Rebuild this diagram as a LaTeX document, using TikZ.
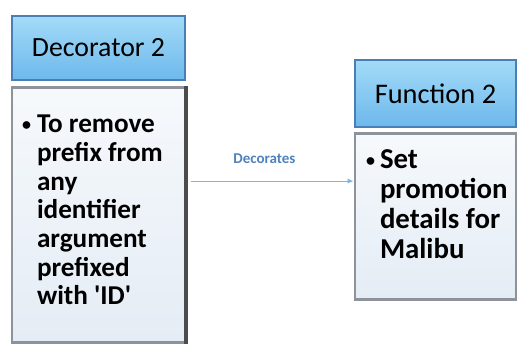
\documentclass[tikz,border=0pt]{standalone}
\usepackage{fontspec}
\setmainfont{Carlito}
\usepackage{xcolor}
\usetikzlibrary{positioning, arrows.meta}
\definecolor{headtop}{HTML}{A3DBF8}
\definecolor{headbot}{HTML}{6DB8EC}
\definecolor{headline}{HTML}{4A7FB5}
\definecolor{bodytop}{HTML}{F6F9FC}
\definecolor{bodybot}{HTML}{E4ECF5}
\definecolor{bodyline}{HTML}{8E9399}
\definecolor{linkblue}{HTML}{7FB2E5}
\definecolor{labelblue}{HTML}{4F81BD}
\newcommand{\bulletdot}{\raisebox{1.2pt}{\fontsize{9}{9}\selectfont\textbullet}}
\tikzstyle{header} = [rectangle, text centered, draw=headline, line width=1.3pt, top color=headtop, bottom color=headbot]
\tikzstyle{body} = [rectangle, inner sep=0pt, draw=bodyline, line width=1.3pt, top color=bodytop, bottom color=bodybot, font=\bfseries]
\tikzstyle{shade} = [line width=2pt, draw=black!70]
\tikzstyle{arrow} = [line width=0.5pt, draw=linkblue, -{Latex[length=3pt,width=2.5pt]}]

\begin{document}
\begin{tikzpicture}[x=0.5pt, y=-0.5pt]
   \useasboundingbox (0,0) rectangle (520,344);
   \node (dec) [header, minimum width=86.5pt, minimum height=32pt, font=\fontsize{13.9}{15}\selectfont] at (98.5,48) {Decorator 2};
   \node (decb) [body, below=2.5pt of dec, minimum width=86.5pt, minimum height=127.5pt, font=\bfseries\fontsize{13.6}{14.35}\selectfont] {\parbox[c][127.5pt][t]{86.5pt}{\vspace*{12.5pt}\hangindent=12.5pt\hangafter=1
      \strut\hspace*{5pt}\makebox[7.5pt][l]{\bulletdot}To remove\\prefix from\\any\\identifier\\argument\\prefixed\\with \textquotesingle ID\textquotesingle}};
   \node (fun) [header, minimum width=80.5pt, minimum height=33.5pt, font=\fontsize{14.2}{16}\selectfont] at (435.5,93.5) {Function 2};
   \node (funb) [body, below=2pt of fun, minimum width=80.5pt, minimum height=83pt, font=\bfseries\fontsize{14.4}{15}\selectfont] {\parbox[c][83pt][t]{80.5pt}{\vspace*{7pt}\hangindent=12.5pt\hangafter=1
      \strut\hspace*{5.5pt}\makebox[7pt][l]{\bulletdot}Set\\promotion\\details for\\Malibu}};
   \draw [shade] (decb.north east) -- (decb.south east);
   \draw [arrow] ([xshift=2.5pt,yshift=17pt]decb.east) -- node[above=5pt, pos=0.45, text=labelblue, font=\bfseries\fontsize{7.5}{9}\selectfont] {Decorates} ([yshift=17pt]decb.east -| funb.west);
\end{tikzpicture}
\end{document}
